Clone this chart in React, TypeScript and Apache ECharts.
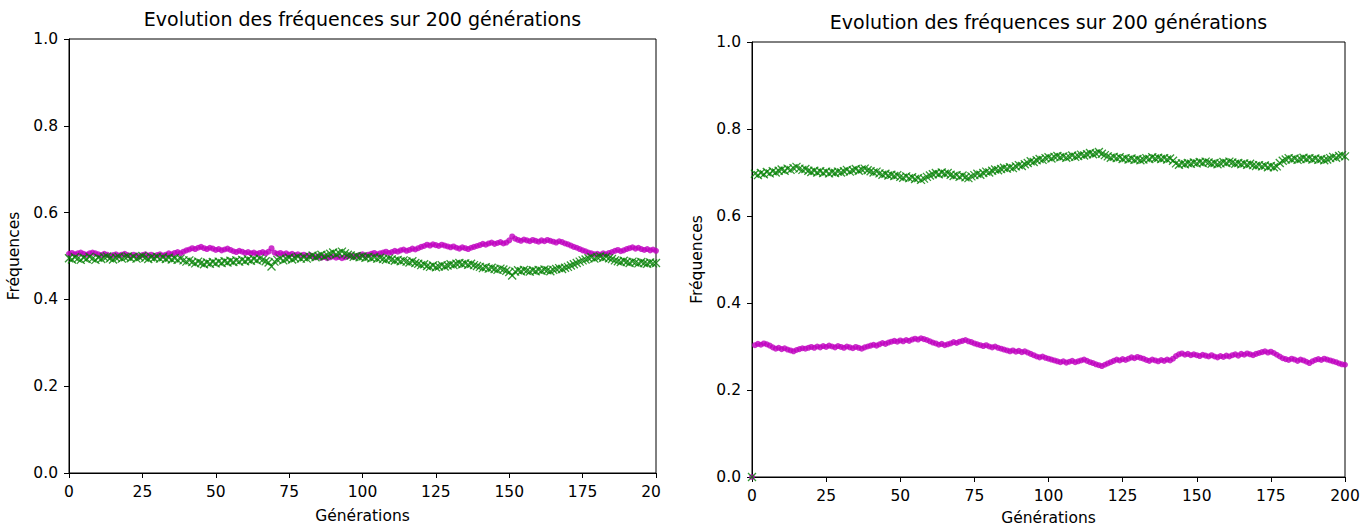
import React, { useEffect, useRef } from "react";
import * as echarts from "echarts";

const TITLE = "Evolution des fréquences sur 200 générations";
const X_NAME = "Générations";
const Y_NAME = "Fréquences";
const X_MAX = 200;
const X_STEP = 25;
const Y_MAX = 1;
const Y_STEP = 0.2;

// Left panel: magenta (dots) and green (crosses), generations 0..200
const leftMagenta = [
  0.505, 0.507, 0.504, 0.506, 0.508, 0.505, 0.503, 0.506, 0.508, 0.506,
  0.504, 0.502, 0.505, 0.503, 0.500, 0.502, 0.504, 0.501, 0.503, 0.505,
  0.502, 0.500, 0.503, 0.501, 0.499, 0.502, 0.504, 0.501, 0.503, 0.500,
  0.502, 0.504, 0.501, 0.503, 0.506, 0.504, 0.507, 0.509, 0.506, 0.510,
  0.513, 0.515, 0.518, 0.516, 0.519, 0.521, 0.518, 0.516, 0.519, 0.517,
  0.514, 0.516, 0.513, 0.515, 0.517, 0.514, 0.511, 0.509, 0.512, 0.510,
  0.507, 0.509, 0.506, 0.508, 0.505, 0.507, 0.509, 0.506, 0.510, 0.518,
  0.508, 0.505, 0.507, 0.504, 0.506, 0.503, 0.505, 0.502, 0.504, 0.501,
  0.503, 0.500, 0.502, 0.499, 0.497, 0.499, 0.496, 0.498, 0.495, 0.497,
  0.499, 0.496, 0.498, 0.495, 0.497, 0.499, 0.501, 0.498, 0.500, 0.502,
  0.504, 0.501, 0.503, 0.505, 0.507, 0.504, 0.506, 0.508, 0.510, 0.507,
  0.509, 0.512, 0.510, 0.513, 0.515, 0.512, 0.514, 0.517, 0.515, 0.518,
  0.521, 0.523, 0.526, 0.524, 0.527, 0.525, 0.523, 0.526, 0.524, 0.522,
  0.520, 0.522, 0.519, 0.517, 0.520, 0.518, 0.516, 0.519, 0.521, 0.523,
  0.525, 0.528, 0.526, 0.529, 0.531, 0.528, 0.530, 0.532, 0.529, 0.531,
  0.536, 0.545, 0.540, 0.537, 0.535, 0.538, 0.536, 0.534, 0.537, 0.535,
  0.533, 0.536, 0.534, 0.537, 0.535, 0.533, 0.531, 0.534, 0.532, 0.529,
  0.527, 0.524, 0.521, 0.519, 0.516, 0.513, 0.511, 0.508, 0.506, 0.504,
  0.505, 0.503, 0.506, 0.504, 0.507, 0.509, 0.512, 0.514, 0.511, 0.513,
  0.516, 0.518, 0.520, 0.517, 0.519, 0.516, 0.514, 0.516, 0.513, 0.515,
  0.512,
];

const leftGreen = [
  0.495, 0.492, 0.497, 0.494, 0.491, 0.496, 0.493, 0.498, 0.494, 0.491,
  0.496, 0.493, 0.497, 0.499, 0.495, 0.492, 0.496, 0.498, 0.494, 0.497,
  0.499, 0.495, 0.498, 0.494, 0.497, 0.500, 0.496, 0.493, 0.497, 0.495,
  0.498, 0.494, 0.497, 0.493, 0.496, 0.492, 0.495, 0.491, 0.494, 0.490,
  0.487, 0.490, 0.486, 0.483, 0.487, 0.484, 0.481, 0.485, 0.482, 0.486,
  0.483, 0.487, 0.484, 0.488, 0.485, 0.489, 0.486, 0.490, 0.487, 0.491,
  0.488, 0.492, 0.489, 0.493, 0.490, 0.494, 0.491, 0.488, 0.485, 0.476,
  0.487, 0.491, 0.494, 0.490, 0.493, 0.496, 0.492, 0.495, 0.498, 0.494,
  0.497, 0.494, 0.498, 0.501, 0.497, 0.500, 0.503, 0.499, 0.502, 0.505,
  0.508, 0.504, 0.507, 0.510, 0.506, 0.503, 0.501, 0.498, 0.500, 0.497,
  0.499, 0.496, 0.498, 0.495, 0.497, 0.494, 0.496, 0.493, 0.491, 0.494,
  0.492, 0.489, 0.491, 0.488, 0.490, 0.487, 0.485, 0.488, 0.484, 0.482,
  0.479, 0.481, 0.477, 0.475, 0.478, 0.474, 0.476, 0.479, 0.476, 0.478,
  0.481, 0.479, 0.482, 0.484, 0.481, 0.483, 0.480, 0.482, 0.479, 0.477,
  0.475, 0.472, 0.474, 0.471, 0.473, 0.470, 0.468, 0.471, 0.469, 0.466,
  0.463, 0.455, 0.464, 0.467, 0.465, 0.468, 0.466, 0.464, 0.467, 0.465,
  0.468, 0.466, 0.469, 0.467, 0.465, 0.468, 0.470, 0.472, 0.470, 0.473,
  0.475, 0.478, 0.481, 0.484, 0.487, 0.490, 0.492, 0.495, 0.497, 0.494,
  0.497, 0.499, 0.496, 0.498, 0.495, 0.493, 0.490, 0.488, 0.486, 0.489,
  0.486, 0.484, 0.487, 0.485, 0.483, 0.486, 0.484, 0.482, 0.485, 0.483,
  0.484,
];

// Right panel
const rightGreen = [
  0.000, 0.697, 0.694, 0.699, 0.696, 0.701, 0.698, 0.703, 0.700, 0.704,
  0.707, 0.704, 0.709, 0.706, 0.710, 0.713, 0.709, 0.706, 0.708, 0.704,
  0.701, 0.704, 0.700, 0.703, 0.699, 0.702, 0.698, 0.701, 0.699, 0.702,
  0.700, 0.703, 0.706, 0.702, 0.705, 0.708, 0.704, 0.707, 0.709, 0.705,
  0.703, 0.700, 0.702, 0.698, 0.695, 0.697, 0.693, 0.695, 0.692, 0.694,
  0.690, 0.688, 0.691, 0.687, 0.689, 0.685, 0.687, 0.683, 0.686, 0.690,
  0.693, 0.696, 0.699, 0.696, 0.700, 0.697, 0.699, 0.695, 0.692, 0.694,
  0.690, 0.693, 0.689, 0.687, 0.691, 0.694, 0.697, 0.695, 0.699, 0.702,
  0.700, 0.704, 0.707, 0.705, 0.708, 0.711, 0.709, 0.712, 0.710, 0.714,
  0.717, 0.715, 0.719, 0.722, 0.726, 0.724, 0.728, 0.731, 0.729, 0.733,
  0.735, 0.732, 0.736, 0.738, 0.735, 0.737, 0.734, 0.736, 0.739, 0.736,
  0.738, 0.741, 0.739, 0.742, 0.745, 0.742, 0.744, 0.747, 0.743, 0.740,
  0.737, 0.734, 0.736, 0.733, 0.735, 0.731, 0.733, 0.730, 0.732, 0.729,
  0.731, 0.728, 0.730, 0.733, 0.731, 0.735, 0.732, 0.734, 0.731, 0.733,
  0.730, 0.732, 0.727, 0.721, 0.718, 0.721, 0.719, 0.722, 0.720, 0.723,
  0.721, 0.724, 0.722, 0.725, 0.723, 0.720, 0.722, 0.719, 0.721, 0.724,
  0.722, 0.725, 0.723, 0.720, 0.722, 0.719, 0.721, 0.718, 0.720, 0.717,
  0.715, 0.717, 0.714, 0.716, 0.712, 0.715, 0.712, 0.714, 0.722, 0.727,
  0.730, 0.733, 0.730, 0.732, 0.729, 0.731, 0.734, 0.731, 0.733, 0.730,
  0.732, 0.729, 0.731, 0.728, 0.730, 0.733, 0.736, 0.734, 0.738, 0.740,
  0.737,
];

const rightMagenta = [
  0.000, 0.303, 0.306, 0.304, 0.307, 0.305, 0.302, 0.298, 0.295, 0.297,
  0.294, 0.296, 0.293, 0.291, 0.289, 0.292, 0.294, 0.296, 0.295, 0.297,
  0.299, 0.297, 0.300, 0.298, 0.301, 0.299, 0.302, 0.300, 0.298, 0.301,
  0.299, 0.297, 0.300, 0.298, 0.296, 0.299, 0.297, 0.295, 0.298, 0.300,
  0.302, 0.304, 0.302, 0.305, 0.308, 0.306, 0.309, 0.311, 0.313, 0.311,
  0.314, 0.312, 0.315, 0.313, 0.316, 0.318, 0.316, 0.319, 0.317, 0.315,
  0.312, 0.309, 0.307, 0.304, 0.306, 0.303, 0.305, 0.307, 0.310, 0.308,
  0.311, 0.313, 0.315, 0.312, 0.310, 0.307, 0.305, 0.303, 0.301, 0.303,
  0.300, 0.298, 0.300, 0.297, 0.295, 0.293, 0.291, 0.289, 0.291, 0.288,
  0.290, 0.287, 0.289, 0.286, 0.283, 0.280, 0.277, 0.275, 0.277, 0.274,
  0.272, 0.270, 0.268, 0.266, 0.264, 0.266, 0.263, 0.265, 0.267, 0.264,
  0.266, 0.268, 0.270, 0.267, 0.264, 0.262, 0.259, 0.257, 0.255, 0.258,
  0.261, 0.264, 0.267, 0.270, 0.268, 0.271, 0.269, 0.272, 0.275, 0.273,
  0.276, 0.274, 0.272, 0.269, 0.267, 0.270, 0.268, 0.266, 0.269, 0.267,
  0.270, 0.268, 0.272, 0.278, 0.282, 0.284, 0.281, 0.283, 0.280, 0.282,
  0.280, 0.278, 0.281, 0.279, 0.277, 0.280, 0.277, 0.275, 0.278, 0.276,
  0.279, 0.277, 0.280, 0.282, 0.279, 0.283, 0.281, 0.284, 0.282, 0.280,
  0.283, 0.285, 0.287, 0.289, 0.286, 0.288, 0.285, 0.281, 0.277, 0.273,
  0.271, 0.269, 0.272, 0.270, 0.267, 0.270, 0.268, 0.265, 0.262, 0.266,
  0.269, 0.271, 0.269, 0.272, 0.270, 0.268, 0.266, 0.264, 0.261, 0.259,
  0.258,
];

const MAGENTA = "#bf00bf";
const GREEN = "#008000";
const FONT = "DejaVu Sans";
const CROSS = "path://M0,0L10,10M0,10L10,0";
const TICK_FONT = 15.5;
const TITLE_FONT = 19;

type Panel = {
  grid: { left: number; top: number; width: number; height: number };
  titleTop: number;
  xNameGap: number;
  magenta: number[];
  green: number[];
};

function toPoints(values: number[]) {
  return values.map((v, i) => [i, v]);
}

function buildOption(p: Panel): any {
  const g = p.grid;
  return {
    animation: false,
    title: {
      text: TITLE,
      left: g.left + g.width / 2,
      top: p.titleTop,
      padding: 0,
      textAlign: "center",
      textStyle: { fontFamily: FONT, fontSize: TITLE_FONT, fontWeight: "normal", color: "#000" },
    },
    grid: {
      left: g.left,
      top: g.top,
      width: g.width,
      height: g.height,
      outerBoundsMode: "none",
      containLabel: false,
      show: true,
      borderColor: "#000",
      borderWidth: 1,
      backgroundColor: "transparent",
    },
    xAxis: {
      type: "value",
      min: 0,
      max: X_MAX,
      interval: X_STEP,
      name: X_NAME,
      nameLocation: "middle",
      nameGap: p.xNameGap,
      nameTextStyle: { fontFamily: FONT, fontSize: TICK_FONT, color: "#000" },
      axisLine: { show: true, onZero: false, lineStyle: { color: "#000", width: 1 } },
      axisTick: { show: true, length: 5, lineStyle: { color: "#000", width: 1 } },
      axisLabel: { fontFamily: FONT, fontSize: TICK_FONT, color: "#000", margin: 11 },
      splitLine: { show: false },
    },
    yAxis: {
      type: "value",
      min: 0,
      max: Y_MAX,
      interval: Y_STEP,
      name: Y_NAME,
      nameLocation: "middle",
      nameGap: 44,
      nameTextStyle: { fontFamily: FONT, fontSize: TICK_FONT, color: "#000" },
      axisLine: { show: true, lineStyle: { color: "#000", width: 1 } },
      axisTick: { show: true, length: 5, lineStyle: { color: "#000", width: 1 } },
      axisLabel: {
        fontFamily: FONT,
        fontSize: TICK_FONT,
        color: "#000",
        margin: 11,
        formatter: (v: number) => v.toFixed(1),
      },
      splitLine: { show: false },
    },
    series: [
      {
        type: "scatter",
        data: toPoints(p.magenta),
        symbol: "circle",
        symbolSize: 6,
        itemStyle: { color: MAGENTA },
        clip: false,
      },
      {
        type: "scatter",
        data: toPoints(p.green),
        symbol: CROSS,
        symbolSize: 8,
        itemStyle: { color: "none", borderColor: GREEN, borderWidth: 1.3 },
        clip: false,
      },
    ],
  };
}

function ChartBox(props: { left: number; width: number; panel: Panel }) {
  const ref = useRef<HTMLDivElement>(null);
  useEffect(() => {
    if (!ref.current) return;
    const chart = echarts.init(ref.current, null, { renderer: "svg" });
    chart.setOption(buildOption(props.panel));
    return () => chart.dispose();
  }, []);
  return (
    <div
      ref={ref}
      style={{
        position: "absolute",
        left: props.left,
        top: 0,
        width: props.width,
        height: 527,
        overflow: "hidden",
      }}
    />
  );
}

export default function App() {
  const leftPanel: Panel = {
    grid: { left: 69, top: 39, width: 587, height: 434 },
    titleTop: 9,
    xNameGap: 35,
    magenta: leftMagenta,
    green: leftGreen,
  };
  const rightPanel: Panel = {
    grid: { left: 91, top: 42, width: 593, height: 435 },
    titleTop: 12,
    xNameGap: 33,
    magenta: rightMagenta,
    green: rightGreen,
  };
  return (
    <div
      style={{
        position: "fixed",
        left: 0,
        top: 0,
        width: 1363,
        height: 527,
        background: "#fff",
        overflow: "hidden",
      }}
    >
      <ChartBox left={0} width={661} panel={leftPanel} />
      <ChartBox left={661} width={702} panel={rightPanel} />
    </div>
  );
}
